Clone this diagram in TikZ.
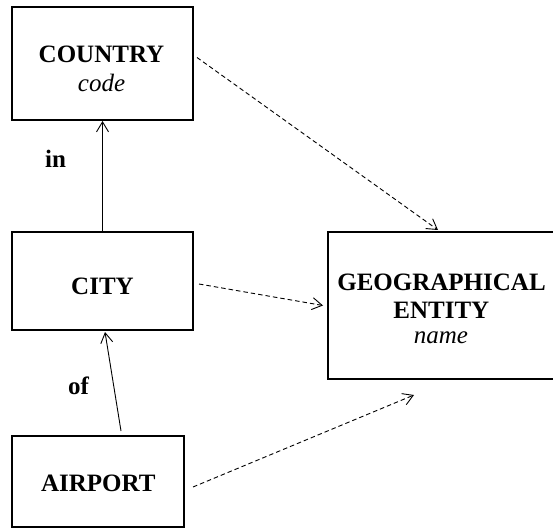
\documentclass[tikz,border=0pt]{standalone}
\usepackage{fontspec}
\setmainfont{Liberation Serif}
\usetikzlibrary{arrows.meta}
\begin{document}
\begin{tikzpicture}[x=1pt,y=-1pt,
  entbox/.style={draw=black,line width=2pt,rectangle,inner sep=0pt},
  txt/.style={anchor=base,inner sep=0pt,font=\fontsize{25}{29}\selectfont\bfseries},
  itxt/.style={anchor=base,inner sep=0pt,font=\fontsize{25}{29}\selectfont\itshape},
  rel/.style={line width=0.9pt,-{Straight Barb[length=10pt,width=12pt]}},
  isa/.style={line width=0.9pt,dash pattern=on 4.5pt off 3pt,-{Straight Barb[length=10pt,width=12pt]}}]
\useasboundingbox (0,0) rectangle (553,529);
% boxes
\node[entbox,minimum width=181pt,minimum height=113pt] (country) at (102.5,63.5) {};
\node[entbox,minimum width=181pt,minimum height=98pt] (city) at (102.5,281) {};
\node[entbox,minimum width=172pt,minimum height=91pt] (airport) at (98,481.5) {};
\node[entbox,minimum width=227pt,minimum height=147pt] (geo) at (441.5,305.5) {};
% texts
\node[txt] (countryname) at (101.5,63) {COUNTRY};
\node[itxt] (countryattr) at (101.5,92) {code};
\node[txt] (cityname) at (102.5,294.5) {CITY};
\node[txt] (airportname) at (98.3,491.7) {AIRPORT};
\node[txt] (geoname1) at (441.5,290) {GEOGRAPHICAL};
\node[txt] (geoname2) at (441.3,318.3) {ENTITY};
\node[itxt] (geoattr) at (441,343.3) {name};
\node[txt] (inlabel) at (55.5,168) {in};
\node[txt] (oflabel) at (78.5,394) {of};
% relationships
\draw[rel] (city.north) -- (country.south);
\draw[rel] ([xshift=23pt,yshift=4pt]airport.north) -- ([xshift=2.5pt,yshift=-1pt]city.south);
% generalisations
\draw[isa] ([xshift=3pt,yshift=6pt]country.east) -- ([xshift=-3.5pt,yshift=1pt]geo.north);
\draw[isa] ([xshift=5pt,yshift=-3pt]city.east) -- ([xshift=-4pt,yshift=0pt]geo.west);
\draw[isa] ([xshift=8pt,yshift=-5.5pt]airport.east) -- ([xshift=-27.5pt,yshift=-15pt]geo.south);
\end{tikzpicture}
\end{document}
